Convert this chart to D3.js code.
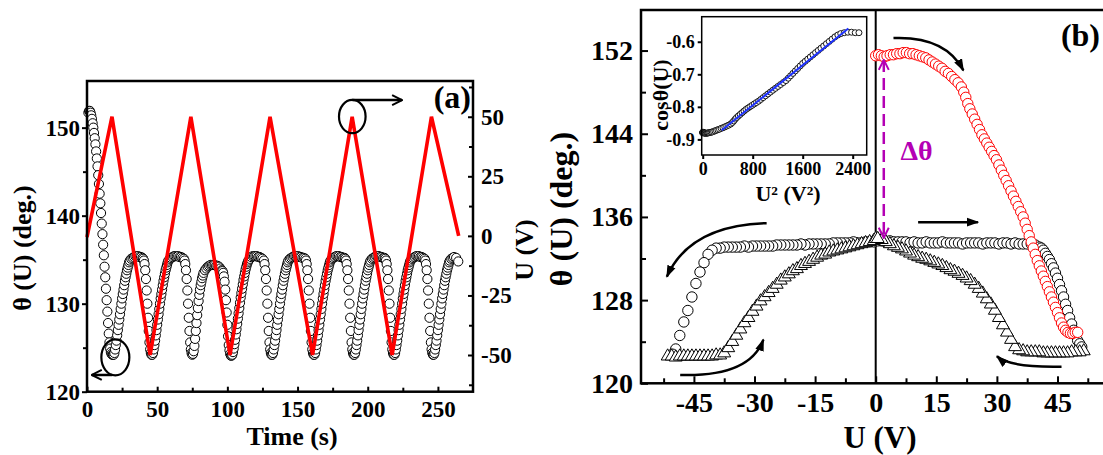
<!DOCTYPE html>
<html lang="en">
<head>
<meta charset="UTF-8">
<title>Contact angle vs time and voltage</title>
<script src="https://d3js.org/d3.v7.min.js"></script>
<style>
  body { margin: 0; background: #fff; }
  svg { display: block; }
  text { font-family: "Liberation Serif", "Times New Roman", serif; font-weight: bold; fill: #000; }
</style>
</head>
<body>
<svg id="chart" width="1103" height="455"></svg>
<script>
// ---- panel (a): contact angle vs time, [t (s), theta (deg)]
const thetaTime = [
  [1,151.7],[1.5,151.9],[2,151.9],[2.5,151.7],[3,151.4],[3.5,151.0],[4,150.5],[4.5,150.0],[5,149.4],[5.5,148.8],[6,148.1],[6.5,147.3],[7,146.5],[7.5,145.6],[8,144.6],[8.5,143.6],[9,142.5],[9.5,141.4],[10,140.3],[10.5,139.1],[11,137.9],[11.5,136.7],[12,135.5],[12.5,134.2],[13,133.0],[13.5,131.7],[14,130.4],[14.5,129.1],[15,127.8],[15.5,126.6],[16,125.6],[16.5,124.9],[17,124.5],[17.5,124.3],
  [18,124.2],[18.5,124.2],[19,124.2],[19.5,124.4],[20,124.8],[20.5,125.3],[21,125.8],[21.5,126.4],[22,127.0],[22.5,127.6],[23,128.2],[23.5,128.8],[24,129.4],[24.5,130.0],[25,130.6],[25.5,131.1],[26,131.6],[26.5,132.1],[27,132.6],[27.5,133.0],[28,133.4],[28.5,133.8],[29,134.1],[29.5,134.4],[30,134.7],[30.5,134.9],[31.5,135.1],[32.5,135.2],[33.5,135.3],[34.5,135.4],[35.5,135.4],[36.5,135.4],[37.5,135.3],[38.5,135.3],[39.5,135.2],[40,135.1],
  [40.5,134.9],[41,134.5],[41.5,133.8],[42,132.8],[42.5,131.5],[43,130.0],[43.5,128.4],[44,126.9],[44.5,125.6],[45,124.8],[45.5,124.4],[46,124.2],[46.5,124.2],[47,124.4],[47.5,124.8],[48,125.3],[48.5,125.8],[49,126.4],[49.5,127.0],[50,127.6],[50.5,128.2],[51,128.8],[51.5,129.4],[52,130.0],[52.5,130.6],[53,131.1],[53.5,131.6],[54,132.1],[54.5,132.6],[55,133.0],[55.5,133.4],[56,133.8],[56.5,134.1],[57,134.4],[57.5,134.7],[58,134.9],
  [59,135.1],[60,135.2],[61,135.3],[62,135.4],[63,135.4],[64,135.4],[65,135.4],[66,135.3],[67,135.3],[68,135.2],[69,135.1],
  [69.5,134.9],[70,134.5],[70.5,133.8],[71,132.8],[71.5,131.5],[72,130.0],[72.5,128.4],[73,126.9],[73.5,125.6],[74,124.8],[74.5,124.4],[75,124.2],[75.5,124.3],[76,124.6],[76.5,125.2],[77,126.0],[77.5,126.9],[78,127.8],[78.5,128.7],[79,129.5],[79.5,130.3],[80,131.0],[80.5,131.6],[81,132.1],[81.5,132.5],[82,132.9],[82.5,133.2],[83,133.5],[84,133.8],[85,134.0],[86,134.2],[87,134.3],[88,134.4],[89,134.4],[90,134.4],[91,134.4],[92,134.3],[93,134.3],[94,134.2],[95,134.0],[96,133.8],
  [96.5,133.7],[97,133.5],[97.5,133.1],[98,132.5],[98.5,131.6],[99,130.4],[99.5,129.0],[100,127.6],[100.5,126.3],[101,125.3],[101.5,124.7],[102,124.3],[102.5,124.1],[103,124.1],[103.5,124.2],[104,124.5],[104.5,124.9],[105,125.4],[105.5,125.9],[106,126.5],[106.5,127.1],[107,127.7],[107.5,128.3],[108,128.9],[108.5,129.5],[109,130.1],[109.5,130.7],[110,131.2],[110.5,131.7],[111,132.2],[111.5,132.7],[112,133.1],[112.5,133.5],[113,133.9],[113.5,134.2],[114,134.5],[114.5,134.7],[115,134.9],[116,135.1],[117,135.3],[118,135.4],[119,135.4],[120,135.4],[121,135.4],[122,135.3],[123,135.3],[124,135.2],[125,135.1],
  [126,134.9],[126.5,134.5],[127,133.8],[127.5,132.8],[128,131.5],[128.5,130.0],[129,128.4],[129.5,126.9],[130,125.6],[130.5,124.8],[131,124.4],[131.5,124.2],[132,124.2],[132.5,124.4],[133,124.8],[133.5,125.3],[134,125.8],[134.5,126.4],[135,127.0],[135.5,127.6],[136,128.2],[136.5,128.8],[137,129.4],[137.5,130.0],[138,130.6],[138.5,131.1],[139,131.6],[139.5,132.1],[140,132.6],[140.5,133.0],[141,133.4],[141.5,133.8],[142,134.1],[142.5,134.4],[143,134.7],[143.5,134.9],[144.5,135.1],[145.5,135.2],[146.5,135.3],[147.5,135.4],[148.5,135.4],[149.5,135.4],[150.5,135.4],[151.5,135.3],[152.5,135.3],[153.5,135.2],[154.5,135.2],[155.5,135.1],
  [156,134.9],[156.5,134.5],[157,133.8],[157.5,132.8],[158,131.5],[158.5,130.0],[159,128.4],[159.5,126.9],[160,125.6],[160.5,124.8],[161,124.4],[161.5,124.2],[162,124.2],[162.5,124.4],[163,124.8],[163.5,125.3],[164,125.8],[164.5,126.4],[165,127.0],[165.5,127.6],[166,128.2],[166.5,128.8],[167,129.4],[167.5,130.0],[168,130.6],[168.5,131.1],[169,131.6],[169.5,132.1],[170,132.6],[170.5,133.0],[171,133.4],[171.5,133.8],[172,134.1],[172.5,134.4],[173,134.7],[173.5,134.9],[174.5,135.1],[175.5,135.2],[176.5,135.3],[177.5,135.4],[178.5,135.4],[179.5,135.4],[180.5,135.3],[181.5,135.3],[182.5,135.2],[183.5,135.2],[184,135.1],
  [184.5,134.9],[185,134.5],[185.5,133.8],[186,132.8],[186.5,131.5],[187,130.0],[187.5,128.4],[188,126.9],[188.5,125.6],[189,124.8],[189.5,124.4],[190,124.2],[190.5,124.2],[191,124.4],[191.5,124.8],[192,125.3],[192.5,125.8],[193,126.4],[193.5,127.0],[194,127.6],[194.5,128.2],[195,128.8],[195.5,129.4],[196,130.0],[196.5,130.6],[197,131.1],[197.5,131.6],[198,132.1],[198.5,132.6],[199,133.0],[199.5,133.4],[200,133.8],[200.5,134.1],[201,134.4],[201.5,134.7],[202,134.9],[203,135.1],[204,135.2],[205,135.3],[206,135.4],[207,135.4],[208,135.4],[209,135.3],[210,135.3],[211,135.2],[212,135.2],[212.5,135.1],
  [213,134.9],[213.5,134.5],[214,133.8],[214.5,132.8],[215,131.5],[215.5,130.0],[216,128.4],[216.5,126.9],[217,125.6],[217.5,124.8],[218,124.4],[218.5,124.2],[219,124.2],[219.5,124.4],[220,124.8],[220.5,125.3],[221,125.8],[221.5,126.4],[222,127.0],[222.5,127.6],[223,128.2],[223.5,128.8],[224,129.4],[224.5,130.0],[225,130.6],[225.5,131.1],[226,131.6],[226.5,132.1],[227,132.6],[227.5,133.0],[228,133.4],[228.5,133.8],[229,134.1],[229.5,134.4],[230,134.7],[230.5,134.9],[231.5,135.1],[232.5,135.2],[233.5,135.3],[234.5,135.4],[235.5,135.4],[236.5,135.4],[237.5,135.3],[238.5,135.3],[239.5,135.2],[240.5,135.1],
  [241,134.9],[241.5,134.5],[242,133.8],[242.5,132.8],[243,131.5],[243.5,130.0],[244,128.4],[244.5,126.9],[245,125.6],[245.5,124.8],[246,124.4],[246.5,124.2],[247,124.2],[247.5,124.4],[248,124.8],[248.5,125.3],[249,125.8],[249.5,126.4],[250,127.0],[250.5,127.6],[251,128.2],[251.5,128.8],[252,129.4],[252.5,130.0],[253,130.6],[253.5,131.1],[254,131.6],[254.5,132.1],[255,132.6],[255.5,133.0],[256,133.4],[256.5,133.8],[257,134.1],[257.5,134.4],[258,134.7],[258.5,134.9],[259.5,135.1],[260.5,135.2],[261.5,135.3],[263,135.2],[264.5,134.8]
];

// triangular voltage ramp
const rampTime = [0, 17.8, 45.0, 74.0, 101.9, 130.4, 160.7, 188.9, 217.4, 245.4, 264.8];
const rampVolt = [-0.5, 50, -50, 50, -50, 50, -50, 50, -50, 50, 0];

// ---- panel (b): theta vs U, [U (V), theta (deg)]
const firstSweep = [
  [0,151.5],[0.7,151.6],[1.4,151.5],[2.1,151.4],[2.8,151.5],[3.6,151.6],[4.4,151.6],[5.2,151.7],[6,151.7],[6.8,151.8],[7.6,151.8],[8.4,151.7],[9.2,151.7],[10,151.6],[10.8,151.5],[11.6,151.4],[12.4,151.3],[13.2,151.1],[14,150.9],[14.8,150.7],[15.6,150.5],[16.4,150.3],[17.2,150.0],[18,149.8],[18.8,149.5],[19.6,149.2],[20.4,148.9],[21.2,148.5],[21.8,148.0],[22.3,147.5],[22.8,146.9],[23.3,146.4],[23.9,145.9],[24.5,145.4],[25.1,144.9],[25.7,144.4],[26.3,143.9],[26.9,143.5],[27.5,143.1],[28.1,142.7],[28.7,142.3],[29.3,141.9],[29.9,141.5],[30.5,141.0],[31.1,140.5],[31.7,140.0],[32.3,139.5],[32.9,139.0],[33.5,138.5],[34.1,138.0],[34.7,137.5],[35.3,137.0],[35.9,136.5],[36.5,136.0],[37,135.4],[37.5,134.8],[38,134.2],[38.5,133.6],[39,133.0],[39.5,132.4],[40,131.8],[40.5,131.3],[41,130.8],[41.5,130.3],[42,129.8],[42.5,129.3],[43,128.8],[43.5,128.3],[44,127.8],[44.5,127.3],[45,126.8],[45.5,126.3],[46,125.8],[46.5,125.4],[47,125.1],[47.6,124.9],[48.2,124.8],[48.8,124.8],[49.4,124.9],[50,124.9]
];
const circlesUp = [
  [0.5,133.7],[1.5,133.7],[2.5,133.6],[3.5,133.7],[4.5,133.6],[5.5,133.6],[6.5,133.6],[7.5,133.6],[8.5,133.5],[9.5,133.6],[10.5,133.5],[11.5,133.5],[12.5,133.6],[13.5,133.5],[14.5,133.5],[15.5,133.5],[16.5,133.6],[17.5,133.5],[18.5,133.5],[19.5,133.5],[20.5,133.5],[21.5,133.4],[22.5,133.5],[23.5,133.5],[24.5,133.5],[25.5,133.5],[26.5,133.4],[27.5,133.5],[28.5,133.5],[29.5,133.5],[30.5,133.4],[31.5,133.5],[32.5,133.5],[33.5,133.4],[34.5,133.5],[35.5,133.4],[36.5,133.4],[37.5,133.4],[38.5,133.4],[39.5,133.3],[40.5,133.1],[41,133.0],[41.5,132.8],[42,132.5],[42.5,132.2],[43,131.9],[43.5,131.5],[44,131.1],[44.5,130.6],[45,130.1],[45.5,129.5],[46,128.9],[46.5,128.3],[47,127.6],[47.5,127.0],[48,126.3],[48.5,125.7],[49,125.1],[49.5,124.6],[50,124.1],[50.5,123.8],[51,123.5]
];
const circlesDown = [
  [-0.5,133.6],[-1.5,133.6],[-2.5,133.6],[-3.5,133.5],[-4.5,133.5],[-5.5,133.6],[-6.5,133.5],[-7.5,133.5],[-8.5,133.5],[-9.5,133.5],[-10.5,133.5],[-11.5,133.4],[-12.5,133.4],[-13.5,133.4],[-14.5,133.4],[-15.5,133.4],[-16.5,133.4],[-17.5,133.3],[-18.5,133.4],[-19.5,133.3],[-20.5,133.3],[-21.5,133.3],[-22.5,133.3],[-23.5,133.3],[-24.5,133.3],[-25.5,133.2],[-26.5,133.2],[-27.5,133.2],[-28.5,133.2],[-29.5,133.2],[-30.5,133.2],[-31.5,133.1],[-32.5,133.2],[-33.5,133.1],[-34.5,133.1],[-35.5,133.1],[-36.5,133.1],[-37.5,133.1],[-38.5,133.0],[-39.5,133.0],[-40.5,132.8],[-41.5,132.4],[-42.5,131.6],[-43.5,130.7],[-44.5,129.6],[-45.5,128.3],[-46.5,127.0],[-47.5,125.9],[-48.5,124.6],[-49.5,123.3],[-50.3,122.8]
];
const trianglesUp = [
  [-51.5,122.6],[-50.5,122.6],[-49.5,122.5],[-48.5,122.6],[-47.5,122.6],[-46.5,122.6],[-45.5,122.6],[-44.5,122.6],[-43.5,122.6],[-42.5,122.6],[-41.5,122.6],[-40.5,122.6],[-39.5,122.7],[-38.5,122.7],[-37.5,122.9],[-36.5,123.4],[-35.5,124.0],[-34.5,124.6],[-33.5,125.2],[-32.5,125.8],[-31.5,126.3],[-30.5,126.9],[-29.5,127.4],[-28.5,127.9],[-27.5,128.3],[-26.5,128.7],[-25.5,129.1],[-24.5,129.5],[-23.5,129.9],[-22.5,130.2],[-21.5,130.5],[-20.5,130.8],[-19.5,131.0],[-18.5,131.3],[-17.5,131.5],[-16.5,131.7],[-15.5,131.9],[-14.5,132.1],[-13.5,132.3],[-12.5,132.4],[-11.5,132.6],[-10.5,132.7],[-9.5,132.8],[-8.5,132.9],[-7.5,133.0],[-6.5,133.1],[-5.5,133.2],[-4.5,133.3],[-3.5,133.4],[-2.5,133.5],[-1.5,133.6],[-0.5,133.7],[0,133.9]
];
const trianglesDown = [
  [51.5,123.1],[50.5,123.0],[49.5,123.0],[48.5,123.0],[47.5,122.9],[46.5,122.9],[45.5,122.9],[44.5,122.9],[43.5,122.9],[42.5,122.9],[41.5,122.9],[40.5,123.0],[39.5,123.0],[38.5,123.0],[37.5,123.0],[36.5,123.1],[35.5,123.2],[34.5,123.5],[33.5,124.2],[32.5,124.9],[31.5,125.6],[30.5,126.3],[29.5,127.0],[28.5,127.6],[27.5,128.1],[26.5,128.65],[25.5,129.1],[24.5,129.5],[23.5,129.85],[22.5,130.1],[21.5,130.35],[20.5,130.55],[19.5,130.75],[18.5,130.9],[17.5,131.1],[16.5,131.3],[15.5,131.45],[14.5,131.6],[13.5,131.75],[12.5,131.9],[11.5,132.0],[10.5,132.15],[9.5,132.3],[8.5,132.5],[7.5,132.7],[6.5,132.9],[5.5,133.05],[4.5,133.2],[3.5,133.4],[2.5,133.6],[1.5,133.8],[0.5,133.9]
];

// inset linear fit, cos(theta) vs U^2
const fitU2 = [304, 2330];
const fitCos = [-0.872, -0.559];

// ticks
const timeTicks = [0, 50, 100, 150, 200, 250];
const timeMinor = [25, 75, 125, 175, 225];
const thetaTicksA = [120, 130, 140, 150];
const thetaMinorA = [125, 135, 145];
const voltTicksA = [-50, -25, 0, 25, 50];
const voltMinorA = [-62.5, -37.5, -12.5, 12.5, 37.5, 62.5];
const voltTicksB = [-45, -30, -15, 0, 15, 30, 45];
const voltMinorB = [-52.5, -37.5, -22.5, -7.5, 7.5, 22.5, 37.5, 52.5];
const thetaTicksB = [120, 128, 136, 144, 152];
const thetaMinorB = [124, 132, 140, 148];
const u2Ticks = [0, 800, 1600, 2400];
const cosTicks = [-0.9, -0.8, -0.7, -0.6];

const svg = d3.select("#chart");
const magenta = "#b400b4";

// markers
const defs = svg.append("defs");
defs.append("marker").attr("id", "headFill")
  .attr("viewBox", "0 0 10 10").attr("refX", 9).attr("refY", 5)
  .attr("markerWidth", 5).attr("markerHeight", 5).attr("orient", "auto-start-reverse")
  .append("path").attr("d", "M0,1.5 L10,5 L0,8.5 Z").attr("fill", "#000");
defs.append("marker").attr("id", "headOpen")
  .attr("viewBox", "0 0 10 10").attr("refX", 9).attr("refY", 5)
  .attr("markerWidth", 5).attr("markerHeight", 5).attr("orient", "auto-start-reverse")
  .append("path").attr("d", "M1,1 L9,5 L1,9").attr("fill", "none").attr("stroke", "#000").attr("stroke-width", 1.6);
defs.append("marker").attr("id", "headMag")
  .attr("viewBox", "0 0 10 10").attr("refX", 9).attr("refY", 5)
  .attr("markerWidth", 5).attr("markerHeight", 5).attr("orient", "auto-start-reverse")
  .append("path").attr("d", "M1,1 L9,5 L1,9").attr("fill", "none").attr("stroke", magenta).attr("stroke-width", 1.6);

function tidy(g, size) {
  g.select(".domain").remove();
  g.selectAll(".tick line").attr("stroke", "#000").attr("stroke-width", 2);
  g.selectAll(".tick text").style("font-size", size + "px");
}
const fmt = d => String(d);

// =============== panel (a) ===============
const xA = d3.scaleLinear().domain([0, 275]).range([87, 473]);
const yA = d3.scaleLinear().domain([120, 155.3]).range([391.7, 81]);
const yU = d3.scaleLinear().domain([-65.4, 65]).range([391.7, 81]);

svg.append("g").attr("transform", "translate(0,391.7)")
  .call(d3.axisBottom(xA).tickValues(timeTicks).tickFormat(fmt).tickSize(-5).tickPadding(9))
  .call(g => tidy(g, 23));
svg.append("g").attr("transform", "translate(0,391.7)")
  .call(d3.axisBottom(xA).tickValues(timeMinor).tickFormat("").tickSize(-4))
  .call(g => tidy(g, 23));
svg.append("g").attr("transform", "translate(87,0)")
  .call(d3.axisLeft(yA).tickValues(thetaTicksA).tickFormat(fmt).tickSize(5).tickPadding(2))
  .call(g => tidy(g, 23));
svg.append("g").attr("transform", "translate(87,0)")
  .call(d3.axisLeft(yA).tickValues(thetaMinorA).tickFormat("").tickSize(4))
  .call(g => tidy(g, 23));
svg.append("g").attr("transform", "translate(473,0)")
  .call(d3.axisRight(yU).tickValues(voltTicksA).tickFormat(fmt).tickSize(-5).tickPadding(8))
  .call(g => tidy(g, 23));
svg.append("g").attr("transform", "translate(473,0)")
  .call(d3.axisRight(yU).tickValues(voltMinorA).tickFormat("").tickSize(-4))
  .call(g => tidy(g, 23));

// theta(t) circles
svg.append("g").selectAll("circle").data(thetaTime).join("circle")
  .attr("cx", d => xA(d[0])).attr("cy", d => yA(d[1])).attr("r", 4.6)
  .attr("fill", "#fff").attr("stroke", "#000").attr("stroke-width", 1);

// voltage ramp
svg.append("path")
  .datum(d3.zip(rampTime, rampVolt))
  .attr("fill", "none").attr("stroke", "#ff0000").attr("stroke-width", 3.6)
  .attr("d", d3.line().x(d => xA(d[0])).y(d => yU(d[1])));

svg.append("rect").attr("x", 87).attr("y", 81).attr("width", 386).attr("height", 310.7)
  .attr("fill", "none").attr("stroke", "#000").attr("stroke-width", 2.5);

// ellipses and arrows marking which axis belongs to which curve
svg.append("ellipse").attr("cx", xA(189)).attr("cy", yU(50.1)).attr("rx", 13.3).attr("ry", 16.7)
  .attr("fill", "none").attr("stroke", "#000").attr("stroke-width", 2.2);
svg.append("line").attr("x1", xA(189)).attr("x2", xA(224.5)).attr("y1", yU(57)).attr("y2", yU(57))
  .attr("stroke", "#000").attr("stroke-width", 2.5).attr("marker-end", "url(#headOpen)");
svg.append("ellipse").attr("cx", xA(20.2)).attr("cy", yA(123.9)).attr("rx", 14).attr("ry", 18)
  .attr("fill", "none").attr("stroke", "#000").attr("stroke-width", 2.2);
svg.append("line").attr("x1", xA(18)).attr("x2", xA(3.4)).attr("y1", yA(121.9)).attr("y2", yA(121.9))
  .attr("stroke", "#000").attr("stroke-width", 2.5).attr("marker-end", "url(#headOpen)");

svg.append("text").attr("x", 471).attr("y", 108).attr("text-anchor", "end")
  .style("font-size", "32px").text("(a)");
svg.append("text").attr("x", 292).attr("y", 445).attr("text-anchor", "middle")
  .style("font-size", "26px").text("Time (s)");
svg.append("text").attr("transform", "translate(31,248) rotate(-90)").attr("text-anchor", "middle")
  .style("font-size", "26px").text("θ (U) (deg.)");
svg.append("text").attr("transform", "translate(533,250) rotate(-90)").attr("text-anchor", "middle")
  .style("font-size", "26px").text("U (V)");

// =============== panel (b) ===============
const xB = d3.scaleLinear().domain([-58.1, 58]).range([641, 1110]);
const yB = d3.scaleLinear().domain([120, 155.9]).range([383.3, 10]);

svg.append("g").attr("transform", "translate(0,383.3)")
  .call(d3.axisBottom(xB).tickValues(voltTicksB).tickFormat(fmt).tickSize(-7).tickPadding(9))
  .call(g => tidy(g, 28));
svg.append("g").attr("transform", "translate(0,383.3)")
  .call(d3.axisBottom(xB).tickValues(voltMinorB).tickFormat("").tickSize(-5))
  .call(g => tidy(g, 28));
svg.append("g").attr("transform", "translate(641,0)")
  .call(d3.axisLeft(yB).tickValues(thetaTicksB).tickFormat(fmt).tickSize(-7).tickPadding(8))
  .call(g => tidy(g, 28));
svg.append("g").attr("transform", "translate(641,0)")
  .call(d3.axisLeft(yB).tickValues(thetaMinorB).tickFormat("").tickSize(-5))
  .call(g => tidy(g, 28));

svg.append("rect").attr("x", 641).attr("y", 10).attr("width", 469).attr("height", 373.3)
  .attr("fill", "none").attr("stroke", "#000").attr("stroke-width", 2.5);
svg.append("line").attr("x1", xB(0)).attr("x2", xB(0)).attr("y1", yB(155.9)).attr("y2", yB(120))
  .attr("stroke", "#000").attr("stroke-width", 2);

const pB = svg.append("g");
[circlesDown, circlesUp].forEach(series => {
  pB.append("g").selectAll("circle").data(series).join("circle")
    .attr("cx", d => xB(d[0])).attr("cy", d => yB(d[1])).attr("r", 5.2)
    .attr("fill", "#fff").attr("stroke", "#000").attr("stroke-width", 1);
});
const tri = d3.symbol(d3.symbolTriangle, 72);
[trianglesUp, trianglesDown].forEach(series => {
  pB.append("g").selectAll("path").data(series).join("path")
    .attr("transform", d => `translate(${xB(d[0])},${yB(d[1])})`).attr("d", tri)
    .attr("fill", "#fff").attr("stroke", "#000").attr("stroke-width", 1);
});
pB.append("g").selectAll("circle").data(firstSweep).join("circle")
  .attr("cx", d => xB(d[0])).attr("cy", d => yB(d[1])).attr("r", 5.2)
  .attr("fill", "#fff").attr("stroke", "#ff0000").attr("stroke-width", 1);

// sweep direction arrows [start, control, end] in data coordinates
const sweepArrows = [
  [[4.4, 153.2], [17.2, 153.4], [21.7, 150.1]],
  [[-27, 135.4], [-46, 135.2], [-51.7, 130.25]],
  [[-48.4, 120.8], [-31.2, 120.6], [-27.8, 124.2]],
  [[46, 121.6], [33.2, 121.5], [30, 122.6]]
];
sweepArrows.forEach(a => {
  pB.append("path")
    .attr("d", `M${xB(a[0][0])},${yB(a[0][1])} Q${xB(a[1][0])},${yB(a[1][1])} ${xB(a[2][0])},${yB(a[2][1])}`)
    .attr("fill", "none").attr("stroke", "#000").attr("stroke-width", 2.5)
    .attr("marker-end", "url(#headFill)");
});
pB.append("line").attr("x1", xB(10.5)).attr("x2", xB(25.3)).attr("y1", yB(135.5)).attr("y2", yB(135.5))
  .attr("stroke", "#000").attr("stroke-width", 2.5).attr("marker-end", "url(#headFill)");

// delta theta
pB.append("line").attr("x1", xB(2)).attr("x2", xB(2)).attr("y1", yB(151.1)).attr("y2", yB(134.0))
  .attr("stroke", magenta).attr("stroke-width", 2.5).attr("stroke-dasharray", "12,6")
  .attr("marker-start", "url(#headMag)").attr("marker-end", "url(#headMag)");
pB.append("text").attr("x", xB(10.1)).attr("y", yB(142.4)).attr("dy", "0.35em").attr("text-anchor", "middle")
  .style("font-size", "28px").style("fill", magenta).text("Δθ");

svg.append("text").attr("x", 1100).attr("y", 46).attr("text-anchor", "end")
  .style("font-size", "32px").text("(b)");
svg.append("text").attr("x", 880).attr("y", 448).attr("text-anchor", "middle")
  .style("font-size", "31px").text("U (V)");
svg.append("text").attr("transform", "translate(572,209) rotate(-90)").attr("text-anchor", "middle")
  .style("font-size", "32px").text("θ (U) (deg.)");

// =============== inset ===============
const xI = d3.scaleLinear().domain([-16, 2624]).range([701.7, 866.7]);
const yI = d3.scaleLinear().domain([-0.948, -0.523]).range([155, 16.7]);

svg.append("rect").attr("x", 701.7).attr("y", 16.7).attr("width", 165).attr("height", 138.3)
  .attr("fill", "#fff").attr("stroke", "none");
svg.append("g").attr("transform", "translate(0,155)")
  .call(d3.axisBottom(xI).tickValues(u2Ticks).tickFormat(fmt).tickSize(4).tickPadding(3))
  .call(g => tidy(g, 18));
svg.append("g").attr("transform", "translate(701.7,0)")
  .call(d3.axisLeft(yI).tickValues(cosTicks).tickFormat(d => d.toFixed(1)).tickSize(4).tickPadding(3))
  .call(g => tidy(g, 18));

const insetPts = firstSweep.map(d => [d[0] * d[0], Math.cos(d[1] * Math.PI / 180)]);
svg.append("g").selectAll("circle").data(insetPts).join("circle")
  .attr("cx", d => xI(d[0])).attr("cy", d => yI(d[1])).attr("r", 3)
  .attr("fill", "#fff").attr("stroke", "#000").attr("stroke-width", 0.9);
svg.append("path").datum(d3.zip(fitU2, fitCos))
  .attr("fill", "none").attr("stroke", "#1e32ff").attr("stroke-width", 2)
  .attr("d", d3.line().x(d => xI(d[0])).y(d => yI(d[1])));
svg.append("rect").attr("x", 701.7).attr("y", 16.7).attr("width", 165).attr("height", 138.3)
  .attr("fill", "none").attr("stroke", "#000").attr("stroke-width", 1.5);

svg.append("text").attr("x", 788).attr("y", 201).attr("text-anchor", "middle")
  .style("font-size", "22px").text("U² (V²)");
svg.append("text").attr("transform", "translate(668,95) rotate(-90)").attr("text-anchor", "middle")
  .style("font-size", "22px").text("cosθ(U)");
</script>
</body>
</html>
